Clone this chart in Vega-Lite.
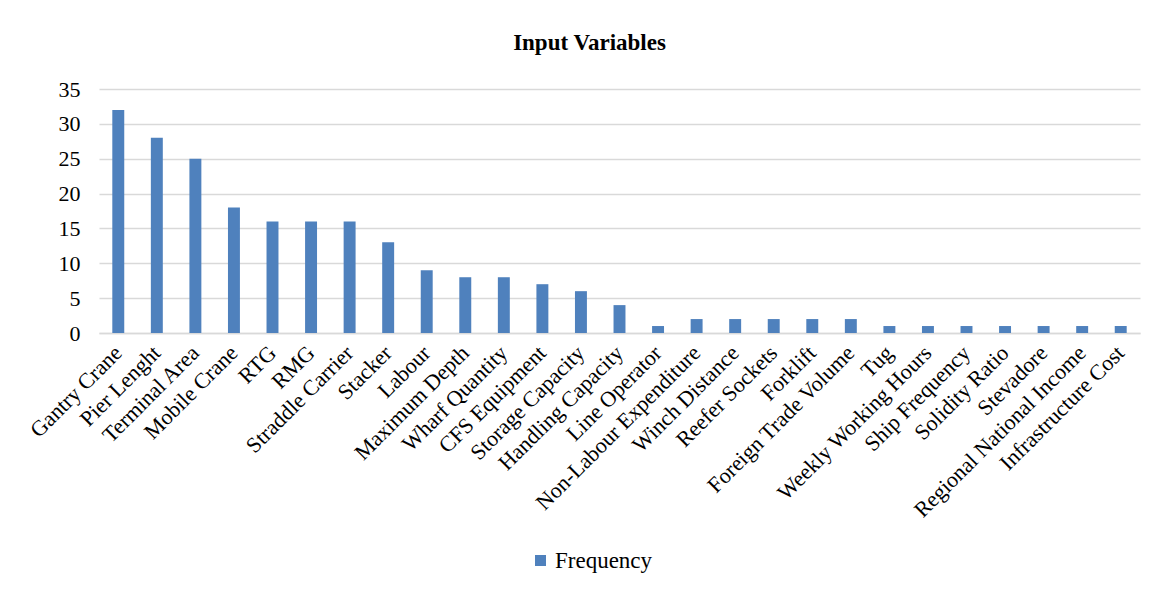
{
  "$schema": "https://vega.github.io/schema/vega-lite/v6.json",
  "width": 1041,
  "height": 244,
  "autosize": {"type": "none"},
  "padding": {"left": 99, "top": 89, "right": 24, "bottom": 258},
  "background": "white",
  "title": {
    "text": "Input Variables",
    "font": "Liberation Serif",
    "fontSize": 23,
    "fontWeight": "bold",
    "color": "#000000",
    "anchor": "middle",
    "dx": -30,
    "offset": 23
  },
  "data": {
    "values": [
      {"variable": "Gantry Crane", "frequency": 32},
      {"variable": "Pier Lenght", "frequency": 28},
      {"variable": "Terminal Area", "frequency": 25},
      {"variable": "Mobile Crane", "frequency": 18},
      {"variable": "RTG", "frequency": 16},
      {"variable": "RMG", "frequency": 16},
      {"variable": "Straddle Carrier", "frequency": 16},
      {"variable": "Stacker", "frequency": 13},
      {"variable": "Labour", "frequency": 9},
      {"variable": "Maximum Depth", "frequency": 8},
      {"variable": "Wharf Quantity", "frequency": 8},
      {"variable": "CFS Equipment", "frequency": 7},
      {"variable": "Storage Capacity", "frequency": 6},
      {"variable": "Handling Capacity", "frequency": 4},
      {"variable": "Line Operator", "frequency": 1},
      {"variable": "Non-Labour Expenditure", "frequency": 2},
      {"variable": "Winch Distance", "frequency": 2},
      {"variable": "Reefer Sockets", "frequency": 2},
      {"variable": "Forklift", "frequency": 2},
      {"variable": "Foreign Trade Volume", "frequency": 2},
      {"variable": "Tug", "frequency": 1},
      {"variable": "Weekly Working Hours", "frequency": 1},
      {"variable": "Ship Frequency", "frequency": 1},
      {"variable": "Solidity Ratio", "frequency": 1},
      {"variable": "Stevadore", "frequency": 1},
      {"variable": "Regional National Income", "frequency": 1},
      {"variable": "Infrastructure Cost", "frequency": 1}
    ]
  },
  "mark": {"type": "bar"},
  "encoding": {
    "x": {
      "field": "variable",
      "type": "nominal",
      "sort": null,
      "scale": {"paddingInner": 0.69, "paddingOuter": 0.345},
      "axis": {
        "title": null,
        "labelAngle": -45,
        "labelAlign": "right",
        "labelBaseline": "middle",
        "labelPadding": 16,
        "labelFont": "Liberation Serif",
        "labelFontSize": 22,
        "labelColor": "#000000",
        "labelOverlap": false,
        "labelLimit": 400,
        "ticks": false,
        "domainColor": "#d9d9d9",
        "domainWidth": 1.5,
        "grid": false
      }
    },
    "y": {
      "field": "frequency",
      "type": "quantitative",
      "scale": {"domain": [0, 35], "nice": false},
      "axis": {
        "title": null,
        "values": [0, 5, 10, 15, 20, 25, 30, 35],
        "labelFont": "Liberation Serif",
        "labelFontSize": 22,
        "labelColor": "#000000",
        "labelPadding": 19,
        "ticks": false,
        "domain": false,
        "grid": true,
        "gridColor": "#d9d9d9",
        "gridWidth": 1.5
      }
    },
    "color": {
      "datum": "Frequency",
      "scale": {"range": ["#4F81BD"]},
      "legend": {
        "title": null,
        "orient": "none",
        "legendX": 430,
        "legendY": 460,
        "symbolType": "square",
        "symbolSize": 121,
        "symbolStrokeWidth": 0,
        "labelFont": "Liberation Serif",
        "labelFontSize": 23,
        "labelColor": "#000000",
        "labelOffset": 3
      }
    }
  },
  "config": {
    "view": {"stroke": null}
  }
}
